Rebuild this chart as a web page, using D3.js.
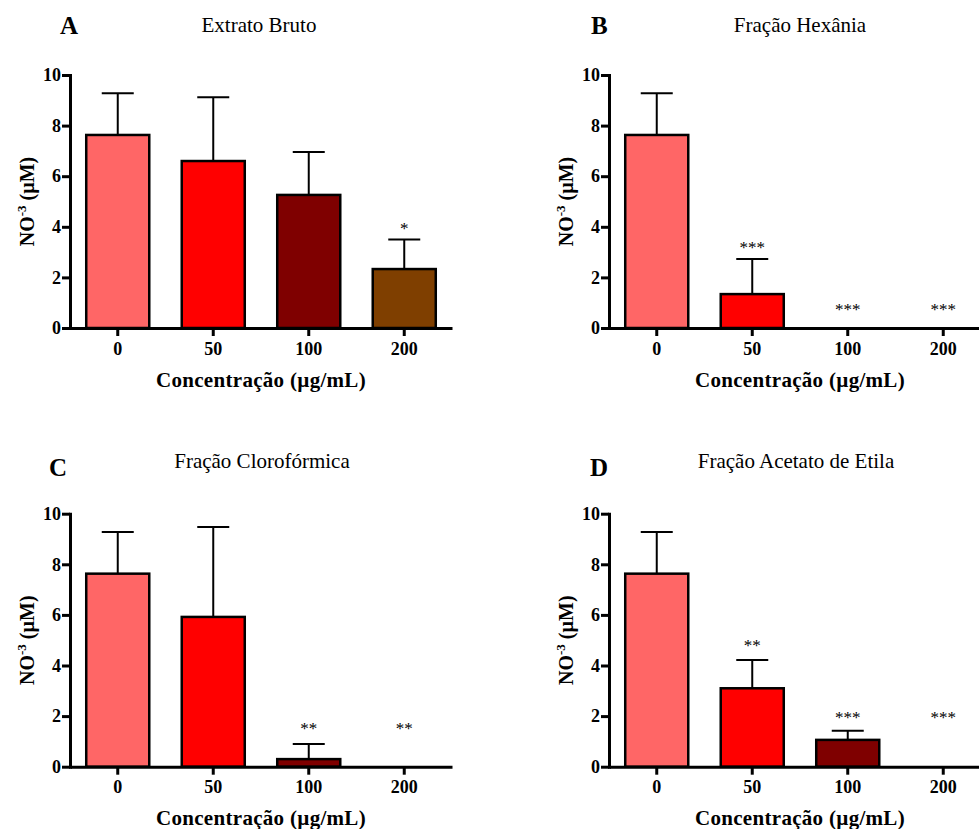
<!DOCTYPE html>
<html>
<head>
<meta charset="utf-8">
<script src="https://cdn.jsdelivr.net/npm/d3@7"></script>
<style>
  body { margin: 0; background: #fff; }
  svg { display: block; }
  text { font-family: "Liberation Serif", "Times New Roman", serif; fill: #000; }
</style>
</head>
<body>
<svg id="chart" width="979" height="829"></svg>
<script>
// ---- data ----
const categories = ["0", "50", "100", "200"];
const barColors = ["#FF6666", "#FF0000", "#7F0000", "#7F3F00"];
const yTicks = [0, 2, 4, 6, 8, 10];
const panelLetters = ["A", "B", "C", "D"];
const panelTitles = ["Extrato Bruto", "Fração Hexânia", "Fração Clorofórmica", "Fração Acetato de Etila"];
const xLabel = "Concentração (µg/mL)";

const meansA = [7.63, 6.60, 5.26, 2.33];
const errA   = [1.65, 2.52, 1.70, 1.17];
const starsA = ["", "", "", "*"];
const starAtA = [null, null, null, 4.03];

const meansB = [7.63, 1.34, 0, 0];
const errB   = [1.65, 1.39, 0, 0];
const starsB = ["", "***", "***", "***"];
const starAtB = [null, 3.28, 0.84, 0.84];

const meansC = [7.63, 5.92, 0.30, 0];
const errC   = [1.65, 3.55, 0.60, 0];
const starsC = ["", "", "**", "**"];
const starAtC = [null, null, 1.61, 1.61];

const meansD = [7.63, 3.10, 1.06, 0];
const errD   = [1.65, 1.12, 0.36, 0];
const starsD = ["", "**", "***", "***"];
const starAtD = [null, 4.89, 2.04, 2.04];

// ---- layout ----
const panels = [
  { means: meansA, errs: errA, stars: starsA, starAt: starAtA, ox: 0,   oy: 0 },
  { means: meansB, errs: errB, stars: starsB, starAt: starAtB, ox: 539, oy: 0 },
  { means: meansC, errs: errC, stars: starsC, starAt: starAtC, ox: 0,   oy: 438.7 },
  { means: meansD, errs: errD, stars: starsD, starAt: starAtD, ox: 539, oy: 438.7 }
];
const letterPos = [[60, 34], [591, 34], [49, 476], [590, 476]];
const titlePos = [[259, 32], [800, 32], [262, 468], [796, 468]];
const serif = "'Liberation Serif', 'Times New Roman', serif";

const svg = d3.select("#chart");

panels.forEach((p, i) => {
  const g = svg.append("g").attr("transform", `translate(${p.ox},${p.oy})`);
  const x = d3.scaleBand().domain(categories).range([70, 452]).paddingInner(0.34).paddingOuter(0.17);
  const y = d3.scaleLinear().domain([0, 10]).range([328, 75]);
  const xc = c => x(c) + x.bandwidth() / 2;

  // error bars (upward)
  categories.forEach((c, k) => {
    if (p.errs[k] > 0) {
      g.append("line")
        .attr("x1", xc(c)).attr("x2", xc(c))
        .attr("y1", y(p.means[k])).attr("y2", y(p.means[k] + p.errs[k]))
        .attr("stroke", "#000").attr("stroke-width", 2);
      g.append("line")
        .attr("x1", xc(c) - 16).attr("x2", xc(c) + 16)
        .attr("y1", y(p.means[k] + p.errs[k])).attr("y2", y(p.means[k] + p.errs[k]))
        .attr("stroke", "#000").attr("stroke-width", 2);
    }
  });

  // bars
  g.selectAll("rect.bar").data(categories.filter((c, k) => p.means[k] > 0)).enter()
    .append("rect")
    .attr("x", c => x(c))
    .attr("width", x.bandwidth())
    .attr("y", c => y(p.means[categories.indexOf(c)]))
    .attr("height", c => y(0) - y(p.means[categories.indexOf(c)]))
    .attr("fill", c => barColors[categories.indexOf(c)])
    .attr("stroke", "#000").attr("stroke-width", 2.5);

  // stars
  categories.forEach((c, k) => {
    if (p.stars[k]) {
      g.append("text")
        .attr("x", xc(c)).attr("y", y(p.starAt[k]))
        .attr("dy", "0.47em")
        .attr("text-anchor", "middle")
        .attr("font-size", 17)
        .style("fill", "#000")
        .text(p.stars[k]);
    }
  });

  // axes
  const yAxis = g.append("g").attr("transform", "translate(70,0)")
    .call(d3.axisLeft(y).tickValues(yTicks).tickSize(8).tickSizeOuter(0).tickPadding(1));
  const xAxis = g.append("g").attr("transform", `translate(0,${y(0)})`)
    .call(d3.axisBottom(x).tickSize(8).tickSizeOuter(0).tickPadding(6));
  [yAxis, xAxis].forEach(a => {
    a.attr("font-family", serif).attr("font-size", 18);
    a.select(".domain").attr("stroke", "#000").attr("stroke-width", 3);
    a.selectAll(".tick line").attr("stroke", "#000").attr("stroke-width", 3);
    a.selectAll(".tick text")
      .style("font-family", serif)
      .style("font-weight", "bold").style("font-size", "18px").style("fill", "#000");
  });
  yAxis.select(".domain").attr("stroke-linecap", "square");

  // y label
  const yl = g.append("text")
    .attr("transform", `translate(34,${(y(0) + y(10)) / 2}) rotate(-90)`)
    .attr("text-anchor", "middle")
    .attr("font-weight", "bold").attr("font-size", 20);
  yl.append("tspan").text("NO");
  yl.append("tspan").attr("font-size", 13).attr("dy", -8).text("-3");
  yl.append("tspan").attr("dy", 8).text(" (µM)");

  // x label
  g.append("text")
    .attr("x", 261).attr("y", 386.7)
    .attr("text-anchor", "middle")
    .attr("font-weight", "bold").attr("font-size", 21)
    .attr("letter-spacing", 0.3)
    .text(xLabel);

  // letter and title
  svg.append("text")
    .attr("x", letterPos[i][0]).attr("y", letterPos[i][1])
    .attr("font-weight", "bold").attr("font-size", 25)
    .text(panelLetters[i]);
  svg.append("text")
    .attr("x", titlePos[i][0]).attr("y", titlePos[i][1])
    .attr("text-anchor", "middle").attr("font-size", 21)
    .text(panelTitles[i]);
});
</script>
</body>
</html>
